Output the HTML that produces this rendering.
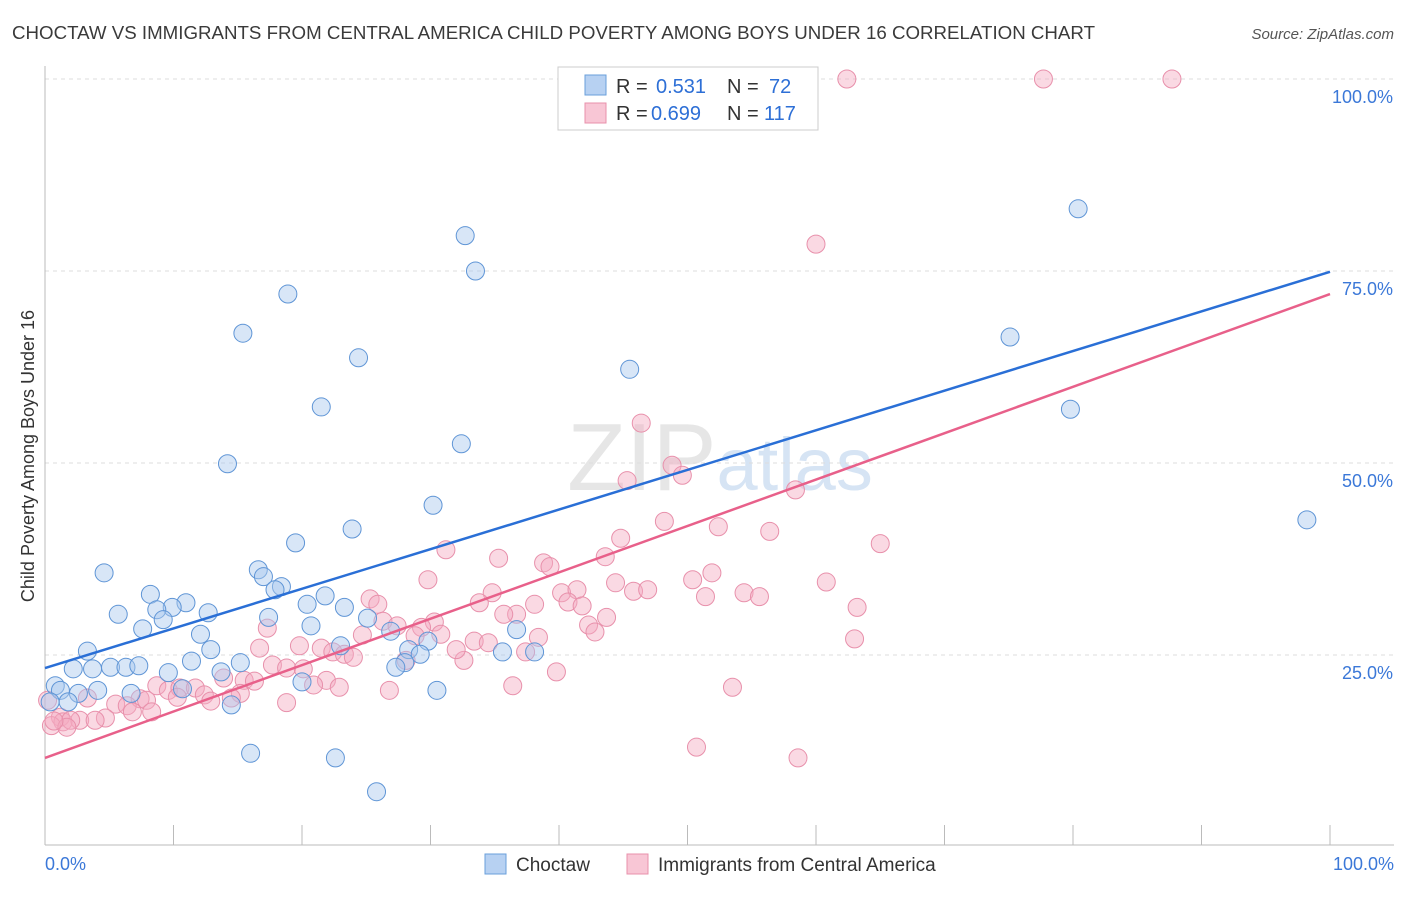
<!DOCTYPE html>
<html><head><meta charset="utf-8"><style>
body{margin:0;background:#fff;font-family:"Liberation Sans",sans-serif}
svg text{font-family:"Liberation Sans",sans-serif}
</style></head><body>
<svg id="chart" width="1406" height="892">
<text x="12" y="39" font-size="18" fill="#3a3a3a" textLength="1083" lengthAdjust="spacingAndGlyphs">CHOCTAW VS IMMIGRANTS FROM CENTRAL AMERICA CHILD POVERTY AMONG BOYS UNDER 16 CORRELATION CHART</text>
<text x="1394" y="39" font-size="15" fill="#555" text-anchor="end" font-style="italic">Source: ZipAtlas.com</text>
<text x="720" y="490" font-size="96" fill="#e6e6e6" text-anchor="middle" font-family="Liberation Serif">ZIP<tspan fill="#d6e4f4" font-family="Liberation Sans" font-size="74">atlas</tspan></text>
<text transform="translate(34,456) rotate(-90)" font-size="18" fill="#333" text-anchor="middle">Child Poverty Among Boys Under 16</text>
<g id="grid"></g><g id="axes"></g><g id="pts"></g><g id="trend"></g>
<g>
<rect x="558" y="67" width="260" height="63" fill="#fff" stroke="#ccc"/>
<rect x="585" y="75" width="21" height="20" fill="#b7d1f2" stroke="#6a9fdb"/>
<rect x="585" y="103" width="21" height="20" fill="#f8c6d5" stroke="#e890ab"/>
<text x="616" y="93" font-size="20" fill="#333">R =</text>
<text x="656" y="93" font-size="20" fill="#2d6fd6">0.531</text>
<text x="727" y="93" font-size="20" fill="#333">N =</text>
<text x="769" y="93" font-size="20" fill="#2d6fd6">72</text>
<text x="616" y="120" font-size="20" fill="#333">R =</text>
<text x="651" y="120" font-size="20" fill="#2d6fd6">0.699</text>
<text x="727" y="120" font-size="20" fill="#333">N =</text>
<text x="764" y="120" font-size="20" fill="#2d6fd6">117</text>
</g>
<g>
<rect x="485" y="854" width="21" height="20" fill="#b7d1f2" stroke="#6a9fdb"/>
<text x="516" y="871" font-size="19" fill="#333">Choctaw</text>
<rect x="627" y="854" width="21" height="20" fill="#f8c6d5" stroke="#e890ab"/>
<text x="658" y="871" font-size="19" fill="#333">Immigrants from Central America</text>
</g>
</svg>
<script>
const blueX=[43.4,80.4,32.7,33.5,18.9,15.4,24.4,75.1,45.5,21.5,79.8,32.4,14.2,98.2,30.2,23.9,19.5,4.6,16.6,17.0,18.4,17.9,8.2,10.97,9.9,8.7,20.4,21.8,23.3,12.7,5.7,9.2,17.4,25.1,20.7,7.6,12.1,26.9,36.7,29.8,3.3,12.9,23.0,28.3,35.6,38.1,29.2,15.2,11.4,28.0,27.3,2.2,3.7,5.1,6.3,7.3,9.6,13.7,20,0.8,1.2,4.1,6.7,10.7,30.5,2.6,1.8,0.4,14.5,16,22.6,25.8];
const blueY=[100,83.1,79.6,75,72,66.9,63.7,66.4,62.2,57.3,57,52.5,49.9,42.6,44.5,41.4,39.6,35.7,36.1,35.2,33.9,33.5,32.9,31.8,31.2,30.9,31.6,32.7,31.2,30.5,30.3,29.6,29.9,29.8,28.8,28.4,27.7,28.1,28.3,26.8,25.5,25.7,26.2,25.7,25.4,25.4,25.1,24.0,24.2,24.0,23.4,23.2,23.2,23.4,23.4,23.6,22.7,22.8,21.5,21,20.4,20.4,20,20.6,20.4,20,18.9,18.9,18.5,12.2,11.6,7.2];
const pinkX=[62.4,77.7,87.7,60,46.4,48.8,49.6,45.3,58.4,48.2,52.4,56.4,44.8,65,31.2,35.3,38.8,39.3,43.6,51.9,29.8,44.4,50.4,60.8,34.8,40.2,41.4,45.8,46.9,25.3,25.9,33.8,38.1,40.7,41.8,51.4,54.4,55.6,63.2,36.7,35.7,43.7,26.3,17.3,27.4,30.3,29.3,42.3,42.8,24.7,30.8,38.4,28.8,63,16.7,19.8,21.5,33.4,34.5,32.6,32,22.4,23.3,24,37.4,28.1,39.8,17.7,18.8,20.1,13.9,15.5,16.3,21.9,8.7,9.6,10.5,11.7,20.9,22.9,26.8,36.4,53.5,15.2,10.3,12.4,14.5,3.3,7.4,7.9,12.9,5.5,6.4,18.8,0.2,6.8,8.3,1.2,4.7,2.7,3.9,1.4,2,0.5,1.7,0.7,50.7,58.6];
const pinkY=[100,100,100,78.5,55.2,49.7,48.4,47.7,46.5,42.4,41.7,41.1,40.2,39.5,38.7,37.6,37,36.5,37.8,35.7,34.8,34.4,34.8,34.5,33.1,33.1,33.5,33.3,33.5,32.3,31.6,31.8,31.6,31.9,31.4,32.6,33.1,32.6,31.2,30.3,30.3,29.9,29.4,28.5,28.8,29.3,28.6,28.9,28,27.6,27.7,27.3,27.5,27.1,25.9,26.2,25.9,26.8,26.6,24.3,25.7,25.4,25.1,24.7,25.4,24.3,22.8,23.7,23.3,23.2,22,21.7,21.6,21.7,21,20.4,20.7,20.7,21.1,20.8,20.4,21,20.8,20,19.5,19.8,19.4,19.4,19.3,19.1,19,18.6,18.4,18.8,19.1,17.6,17.6,16.9,16.8,16.5,16.5,16.3,16.5,15.8,15.6,16.4,13,11.6];
const trendBlue=[23.3,74.9];
const trendPink=[11.6,72.0];
const yTicks=[25,50,75,100];
const xTicks=[0,10,20,30,40,50,60,70,80,90,100];
const NS='http://www.w3.org/2000/svg';
const sx=v=>45+v*12.85, sy=v=>847-v*7.68;
function mk(tag,at,parent){const e=document.createElementNS(NS,tag);for(const k in at)e.setAttribute(k,at[k]);document.getElementById(parent).appendChild(e);return e;}
yTicks.forEach(t=>{
 const l=mk('line',{x1:45,x2:1394,y1:sy(t),y2:sy(t),stroke:'#ddd','stroke-dasharray':'4,4'},'grid');
 
 
 const tx=mk('text',{x:1393,y:sy(t)+24,'font-size':18,fill:'#3b78d8','text-anchor':'end'},'axes');
 tx.textContent=t.toFixed(1)+'%';
 
 
});
const ya=mk('line',{x1:45,x2:45,y1:66,y2:845,stroke:'#bbb'},'axes');


const xa=mk('line',{x1:45,x2:1394,y1:845,y2:845,stroke:'#bbb'},'axes');


xTicks.forEach(t=>{
 const l=mk('line',{x1:sx(t),x2:sx(t),y1:825,y2:845,stroke:'#bbb'},'axes');
 
 
});
[[0,'start','0.0%',45],[100,'end','100.0%',1394]].forEach(a=>{
 const tx=mk('text',{x:a[3],y:870,'font-size':18,fill:'#3b78d8','text-anchor':a[1]},'axes');
 tx.textContent=a[2];
 
 
});
function dots(X,Y,fill,stroke,name){X.forEach((x,i)=>{
 const c=mk('circle',{cx:sx(x),cy:sy(Y[i]),r:9,fill:fill,'fill-opacity':0.45,stroke:stroke,'stroke-width':1},'pts');
 
 
});}
dots(pinkX,pinkY,'#f4aac0','#e890ab','immigrants-point');
dots(blueX,blueY,'#a9c8ee','#5f95d6','choctaw-point');
const tb=mk('line',{x1:sx(0),y1:sy(trendBlue[0]),x2:sx(100),y2:sy(trendBlue[1]),stroke:'#2a6fd6','stroke-width':2.5},'trend');


const tp=mk('line',{x1:sx(0),y1:sy(trendPink[0]),x2:sx(100),y2:sy(trendPink[1]),stroke:'#e8608a','stroke-width':2.5},'trend');


</script>
</body></html>
